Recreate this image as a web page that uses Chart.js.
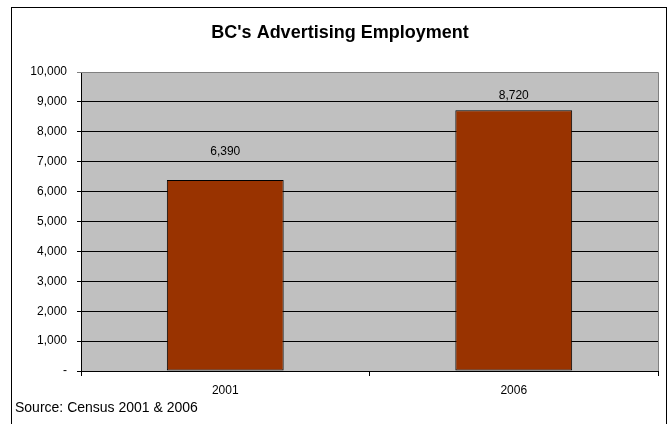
<!DOCTYPE html>
<html>
<head>
<meta charset="utf-8">
<script src="https://cdn.jsdelivr.net/npm/chart.js@4"></script>
<style>
  html, body { margin:0; padding:0; background:#fff; }
  #wrap { width:671px; height:424px; position:relative; }
</style>
</head>
<body>
<div id="wrap"><canvas id="chart" width="671" height="424"></canvas></div>
<script>
const years = ['2001', '2006'];
const employment = [6390, 8720];
const yTicks = [0, 1000, 2000, 3000, 4000, 5000, 6000, 7000, 8000, 9000, 10000];
const titleText = "BC's Advertising Employment";
const sourceText = 'Source: Census 2001 & 2006';

const FONT = 'Arial, "Liberation Sans", sans-serif';
const fmt = n => n === 0 ? '-' : n.toLocaleString('en-US');

// frame, title, plot background and source note
const decor = {
  id: 'decor',
  beforeDraw(chart){
    const ctx = chart.ctx, a = chart.chartArea;
    ctx.save();
    ctx.fillStyle = '#fff';
    ctx.fillRect(0, 0, chart.width, chart.height);
    ctx.strokeStyle = '#000'; ctx.lineWidth = 1;
    ctx.strokeRect(11.5, 7.5, 655, 430);
    ctx.fillStyle = '#c0c0c0';
    ctx.fillRect(a.left, a.top, a.right - a.left, a.bottom - a.top);
    ctx.fillStyle = '#000';
    ctx.font = 'bold 18px ' + FONT;
    ctx.textAlign = 'center'; ctx.textBaseline = 'middle';
    ctx.fillText(titleText, 340, 33);
    ctx.font = '14px ' + FONT;
    ctx.textAlign = 'left';
    ctx.fillText(sourceText, 15, 408);
    ctx.restore();
  },
  afterDatasetsDraw(chart){
    const ctx = chart.ctx, a = chart.chartArea;
    ctx.save();
    // gray plot border on top and right
    ctx.strokeStyle = '#808080'; ctx.lineWidth = 1;
    ctx.beginPath();
    ctx.moveTo(a.left, Math.round(a.top) + 0.5);
    ctx.lineTo(Math.round(a.right) + 0.5, Math.round(a.top) + 0.5);
    ctx.lineTo(Math.round(a.right) + 0.5, a.bottom);
    ctx.stroke();
    // value labels
    const lift = [28, 15];
    ctx.fillStyle = '#000';
    ctx.font = '12px ' + FONT;
    ctx.textAlign = 'center'; ctx.textBaseline = 'middle';
    chart.getDatasetMeta(0).data.forEach((bar, i) => {
      ctx.fillText(fmt(employment[i]), bar.x, bar.y - lift[i]);
    });
    ctx.restore();
  }
};

new Chart(document.getElementById('chart'), {
  type: 'bar',
  data: {
    labels: years,
    datasets: [{
      data: employment,
      backgroundColor: '#993300',
      borderColor: '#000',
      borderWidth: 1,
      borderSkipped: false,
      categoryPercentage: 1,
      barPercentage: 0.405
    }]
  },
  options: {
    responsive: false,
    animation: false,
    events: [],
    layout: { padding: { top: 72, right: 13, left: 0, bottom: 0 } },
    plugins: { legend: { display: false }, title: { display: false }, tooltip: { enabled: false } },
    scales: {
      x: {
        offset: true,
        grid: { offset: true, drawOnChartArea: false, color: '#000', tickLength: 5 },
        border: { color: '#000' },
        ticks: { color: '#000', font: { family: FONT, size: 12 }, padding: 7 },
        afterFit(s){ s.height = 53; }
      },
      y: {
        min: 0, max: 10000,
        afterBuildTicks(s){ s.ticks = yTicks.map(v => ({ value: v })); },
        grid: {
          color: c => c.tick && c.tick.value === 10000 ? '#808080' : '#000',
          tickLength: 4
        },
        border: { color: '#000' },
        ticks: { color: '#000', font: { family: FONT, size: 12 }, padding: 10, callback: v => fmt(v) },
        afterFit(s){ s.width = 81; }
      }
    }
  },
  plugins: [decor]
});
</script>
</body>
</html>
